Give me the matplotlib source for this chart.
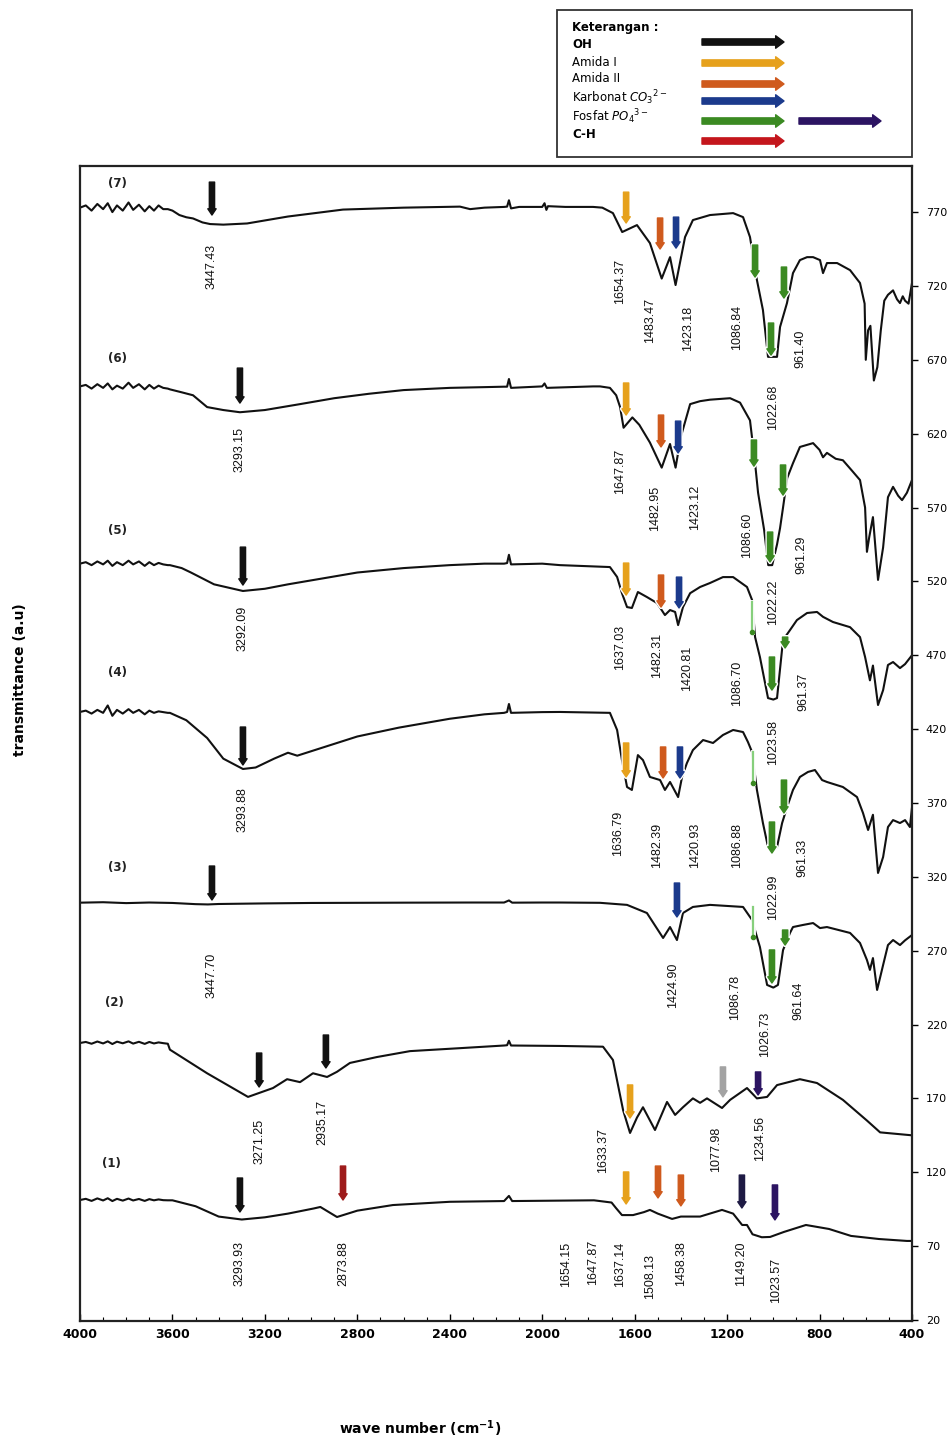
import matplotlib
matplotlib.use('Agg')
import matplotlib.pyplot as plt
import matplotlib.patheffects as pe
from matplotlib.patches import FancyArrowPatch, Rectangle
from matplotlib.ticker import MultipleLocator

# ---------------- data ----------------
NOISE_WN = [4000, 3975, 3950, 3925, 3900, 3880, 3860, 3840, 3815, 3790, 3770, 3745, 3720, 3700, 3680, 3660, 3640, 3620]

wn7 = NOISE_WN + [3600, 3570, 3540, 3511, 3470, 3437, 3380, 3277, 3100, 2862, 2600, 2356, 2312, 2250, 2165, 2152, 2144, 2135,
                  2100, 2000, 1990, 1982, 1975, 1900, 1780, 1740, 1694, 1654, 1620, 1590, 1534, 1483, 1447, 1423, 1382, 1348,
                  1274, 1174, 1131, 1101, 1071, 1045, 1023, 984, 971, 941, 915, 885, 854, 828, 798, 785, 768, 724, 668, 625,
                  605, 600, 590, 580, 565, 550, 535, 520, 504, 482, 465, 452, 440, 430, 415, 400]
t7 = [773, 774.5, 771, 775.5, 772, 776, 770, 774.5, 771, 776.5, 771.5, 775, 770.5, 774, 771, 774.5, 772, 772] + \
     [771, 768, 766.5, 765.7, 763, 761.9, 761.5, 762.3, 767, 771.7, 773, 773.7, 772, 773, 773.5, 773.7, 778, 772.5,
      773.5, 773.5, 776, 771.5, 774, 773.5, 773.5, 773, 769.3, 756.5, 759, 761.2, 749, 725, 739.5, 720.6, 753.1, 764.6,
      768, 769.3, 766.6, 753.1, 724, 703.7, 672, 672, 692.2, 708.4, 728.7, 737.5, 739.5, 739.5, 737.5, 728.7, 735.5, 735.5, 730.7, 722,
      708, 670, 690, 693, 656, 665, 690, 710, 714, 717, 711, 708.4, 713, 710, 708, 722]

wn6 = NOISE_WN + [3611, 3560, 3511, 3450, 3380, 3308, 3200, 3048, 2900, 2750, 2600, 2400, 2250, 2165, 2152, 2144, 2135,
                  2000, 1990, 1980, 1780, 1750, 1707, 1680, 1663, 1648, 1610, 1580, 1534, 1483, 1447, 1423, 1400, 1360,
                  1317, 1274, 1187, 1144, 1101, 1079, 1066, 1040, 1022, 1005, 984, 971, 958, 940, 915, 885, 828, 800, 785,
                  768, 730, 699, 660, 625, 603, 595, 585, 569, 547, 525, 504, 482, 460, 443, 422, 400]
t6 = [652, 653, 650.5, 653.5, 651, 654, 650, 652.5, 650.5, 654.5, 651, 653.5, 650, 653, 650.5, 652.5, 651, 650.5] + \
     [650, 648, 646, 638, 636, 634.5, 636, 640, 644, 647, 649.5, 651, 651.5, 651.8, 651.8, 657, 651,
      652, 654, 651, 652, 652, 651, 646, 638, 624, 631, 626, 614, 597, 613, 597, 618, 640,
      642, 643, 644, 641, 629, 600, 580, 555, 531, 531, 545, 556, 570, 590, 600, 611, 613.6, 609, 604,
      607, 603, 602, 595, 588.6, 570, 540, 550, 563.5, 521, 543, 577, 584, 578, 575, 580, 588.6]

wn5 = NOISE_WN + [3611, 3560, 3520, 3420, 3295, 3200, 3100, 2950, 2800, 2600, 2400, 2250, 2165, 2152, 2144, 2135, 2000,
                  1923, 1707, 1676, 1655, 1633, 1612, 1586, 1547, 1503, 1469, 1447, 1425, 1412, 1391, 1360, 1317, 1274,
                  1218, 1174, 1114, 1092, 1079, 1058, 1023, 1000, 984, 958, 928, 898, 854, 811, 785, 742, 668, 625, 603,
                  582, 569, 547, 525, 504, 482, 452, 430, 400]
t5 = [532, 533, 531, 533.5, 531.5, 534, 530.5, 533, 531, 534, 531.5, 533.5, 530.5, 533, 531, 532.5, 531.5, 531] + \
     [531, 529, 526, 518, 513.5, 515, 518, 522, 526, 529, 531, 532, 532, 532.4, 538, 531.5, 532,
      531, 529.7, 523, 512, 502.6, 502, 512.8, 509.4, 505.3, 497.2, 500.6, 499.3, 490.4, 502.6, 512, 516.2, 518.9,
      522.9, 522.9, 516.2, 507.4, 482.3, 468.8, 441, 440, 441, 480.3, 487, 493.8, 498.6, 499.3, 496, 492.5, 489, 482.3, 468.8,
      453, 463, 436.3, 446.4, 463.4, 465.4, 461.3, 464, 470]

wn4 = NOISE_WN + [3611, 3540, 3450, 3380, 3295, 3240, 3160, 3100, 3060, 3000, 2900, 2800, 2620, 2400, 2250, 2165, 2152,
                  2144, 2135, 2000, 1923, 1707, 1676, 1655, 1633, 1612, 1586, 1564, 1534, 1490, 1469, 1447, 1412, 1395,
                  1374, 1348, 1304, 1261, 1218, 1174, 1131, 1110, 1092, 1071, 1045, 1023, 1000, 984, 962, 941, 915, 885,
                  850, 820, 789, 768, 699, 638, 612, 590, 569, 547, 525, 504, 482, 452, 430, 409, 400]
t4 = [431.6, 432.5, 430.5, 433, 431, 436, 429, 433, 430.5, 433.5, 431, 433, 430, 432.5, 431, 432, 431.5, 431] + \
     [431, 426, 414, 400, 393, 394, 400, 404, 402, 405, 410, 415, 421, 427, 430, 431, 431.6,
      437, 431, 431.5, 431.6, 431, 419.4, 399, 380.8, 378.8, 402.4, 399, 387.6, 385.5, 378.8, 384.2, 374, 387.6,
      397, 405.8, 412.6, 410.6, 416, 419.4, 418, 411.3, 404.5, 378.8, 356.4, 340.2, 338, 340.2, 356.4, 367, 378.8, 387.6,
      391, 392.3, 385.5, 384.2, 380.8, 374, 363.2, 351.7, 362, 322.6, 333.4, 353.7, 358.4, 356.4, 358.4, 353.7, 367]

wn3 = [4000, 3900, 3800, 3700, 3600, 3500, 3447, 3400, 3200, 3000, 2600, 2300, 2165, 2144, 2130, 2000, 1923, 1750, 1633,
       1547, 1477, 1447, 1417, 1391, 1348, 1274, 1131, 1092, 1071, 1058, 1027, 1000, 980, 958, 928, 915, 872, 828, 798,
       768, 668, 625, 595, 582, 569, 551, 525, 504, 482, 452, 430, 400]
t3 = [302.5, 302.8, 302.2, 302.6, 302.3, 301.5, 301.3, 301.6, 302, 302.3, 302.5, 302.6, 302.6, 304, 302.5, 302.6, 302.6,
      302.4, 301, 295.5, 278.6, 286, 277.2, 295.5, 299.6, 301, 299.6, 290.8, 279.3, 272.5, 246.8, 245, 246.8, 270.4, 282,
      286, 287.4, 288.7, 285.3, 286, 282, 275.2, 263.7, 257, 265, 243.4, 260.3, 273.8, 277.2, 273.8, 277, 280.6]

wn2 = NOISE_WN + [3611, 3450, 3273, 3165, 3104, 3048, 2992, 2931, 2888, 2832, 2715, 2572, 2356, 2165, 2152, 2144, 2135,
                  1923, 1737, 1694, 1650, 1620, 1590, 1564, 1512, 1460, 1425, 1391, 1348, 1317, 1287, 1222, 1187, 1144,
                  1114, 1071, 1027, 984, 885, 811, 699, 595, 538, 400]
t2 = [207.5, 208.2, 207, 208.5, 207.2, 208.6, 206.8, 208.4, 207.3, 208.6, 207.1, 208.3, 206.9, 208.2, 207.2, 207.9, 207.4, 207] + \
     [203, 187, 171, 177, 183, 181, 187, 184.5, 188, 194, 198, 202, 204, 205.8, 206, 209, 205.8,
      205.5, 205, 196, 162, 146.6, 157, 164, 148.6, 167.6, 158.8, 164, 170, 167, 170, 163.5, 169, 173.7,
      177, 170, 171, 179, 183, 180.4, 169, 155, 147, 145]

wn1 = NOISE_WN + [3600, 3500, 3400, 3300, 3200, 3100, 2988, 2960, 2888, 2800, 2646, 2400, 2165, 2144, 2130, 1776, 1700,
                  1681, 1655, 1607, 1560, 1534, 1500, 1438, 1400, 1317, 1222, 1174, 1135, 1114, 1090, 1050, 1014, 954,
                  859, 759, 664, 543, 422, 400]
t1 = [101.2, 102, 100.6, 102.3, 100.9, 102.4, 100.5, 102, 100.8, 102.2, 100.9, 101.9, 100.6, 101.8, 101, 101.6, 101.1, 101] + \
     [101, 97, 90, 88, 89.5, 92, 95.5, 96.5, 89.7, 94, 97.8, 100, 100.5, 104, 100.5, 101, 99.5,
      95.8, 91, 91, 93, 94.5, 92, 88.4, 90, 90, 94.5, 92, 84.3, 84.3, 78, 76, 76.2, 79.6,
      84.3, 81.6, 76.9, 74.8, 73.5, 73.5]

spectra = [(wn1, t1), (wn2, t2), (wn3, t3), (wn4, t4), (wn5, t5), (wn6, t6), (wn7, t7)]

series_names = ['(7)', '(6)', '(5)', '(4)', '(3)', '(2)', '(1)']
series_name_wn = [3836, 3836, 3836, 3836, 3836, 3849, 3866]
series_name_t = [789.6, 671.2, 554.7, 458.6, 326.0, 234.6, 125.6]

# Colours of the band markers
C_OH = '#111111'
C_AM1 = '#e6a11c'
C_AM2 = '#cf5a1d'
C_CO3 = '#1b3a8c'
C_PO4 = '#3b8a22'
C_CH = '#c4161c'
C_PUR = '#2c1462'
C_GREY = '#a3a3a3'
C_LGRN = '#86cf7c'
C_DRED = '#9e1b1b'
C_NAVY = '#1e1a44'

# band marker arrows: wavenumber, tail value, tip value, colour, kind
arrow_wn = [3429, 1637, 1490, 1421, 1079, 954, 1010,
            3308, 1637, 1486, 1412, 1084, 958, 1014,
            3295, 1637, 1486, 1408, 1092, 1006, 949,
            3295, 1637, 1477, 1404, 1088, 954, 1006,
            3429, 1417, 1088, 949, 1006,
            3225, 2936, 1620, 1218, 1066,
            3308, 2862, 1637, 1499, 1400, 1136, 993]
arrow_top = [790.3, 783.5, 766, 766.6, 747.7, 732.8, 694.9,
             664.4, 654.3, 632.6, 628.5, 615.7, 598.8, 553.4,
             543.2, 532.4, 524.3, 522.9, 506, 468.8, 482.3,
             421.4, 410.6, 407.9, 407.9, 404.5, 385.5, 357.1,
             327.3, 315.8, 299.6, 284, 270.5,
             200.7, 212.9, 179.1, 191.3, 187.9,
             116.1, 124.2, 120.2, 124.2, 118.1, 118.1, 111.4]
arrow_tip = [768, 762.6, 745, 745.6, 726, 711.8, 673.2,
             640.7, 632.6, 611, 606.9, 598, 578.4, 533.1,
             517.5, 510.7, 502.6, 502, 485.7, 446.4, 474.9,
             395.7, 387.6, 386.9, 386.9, 383.5, 363.2, 336.1,
             304.3, 292.8, 279.3, 273.8, 248.1,
             177.7, 190.6, 156.7, 171, 172.3,
             93.1, 101.2, 98.5, 102.6, 97.2, 95.8, 87.7]
arrow_col = [C_OH, C_AM1, C_AM2, C_CO3, C_PO4, C_PO4, C_PO4,
             C_OH, C_AM1, C_AM2, C_CO3, C_PO4, C_PO4, C_PO4,
             C_OH, C_AM1, C_AM2, C_CO3, C_LGRN, C_PO4, C_PO4,
             C_OH, C_AM1, C_AM2, C_CO3, C_LGRN, C_PO4, C_PO4,
             C_OH, C_CO3, C_LGRN, C_PO4, C_PO4,
             C_OH, C_OH, C_AM1, C_GREY, C_PUR,
             C_OH, C_DRED, C_AM1, C_AM2, C_AM2, C_NAVY, C_PUR]
arrow_kind = ['thick'] * 18 + ['thin', 'thick', 'thick'] + ['thick'] * 4 + ['thin', 'thick', 'thick'] + \
             ['thick', 'thick', 'thin', 'thick', 'thick'] + ['thick'] * 5 + ['thick'] * 7

# peak labels: text, wavenumber position, value position
peak_text = ['3447.43', '1654.37', '1483.47', '1423.18', '1086.84', '1022.68', '961.40',
             '3293.15', '1647.87', '1482.95', '1423.12', '1086.60', '1022.22', '961.29',
             '3292.09', '1637.03', '1482.31', '1420.81', '1086.70', '1023.58', '961.37',
             '3293.88', '1636.79', '1482.39', '1420.93', '1086.88', '1022.99', '961.33',
             '3447.70', '1424.90', '1086.78', '1026.73', '961.64',
             '3271.25', '2935.17', '1633.37', '1077.98', '1234.56',
             '3293.93', '2873.88', '1654.15', '1647.87', '1637.14', '1508.13', '1458.38', '1149.20', '1023.57']
peak_wn = [3429, 1663, 1534, 1369, 1157, 1001, 885,
           3308, 1663, 1512, 1339, 1114, 1001, 880,
           3295, 1663, 1503, 1374, 1157, 1001, 868,
           3295, 1672, 1503, 1339, 1157, 1001, 876,
           3429, 1434, 1166, 1036, 893,
           3225, 2950, 1737, 1248, 1058,
           3308, 2862, 1897, 1780, 1663, 1534, 1400, 1140, 989]
peak_t = [733, 723.3, 696.9, 691.5, 692.2, 638, 677.3,
          609, 594.7, 569.6, 570.3, 551.4, 506, 537.8,
          488.4, 475.6, 470, 461.3, 451.2, 411.2, 445,
          365.2, 349.7, 341.5, 341.5, 341.5, 306.3, 332.7,
          253.5, 246.8, 238.6, 213.6, 235.9,
          141, 154, 135, 135.7, 143,
          57.9, 57.9, 57.9, 59, 57.9, 49.1, 57.9, 57.9, 47]

x_ticks = [4000, 3600, 3200, 2800, 2400, 2000, 1600, 1200, 800, 400]
y_ticks = [20, 70, 120, 170, 220, 270, 320, 370, 420, 470, 520, 570, 620, 670, 720, 770]

legend_labels = ['OH', 'Amida I', 'Amida II', r'Karbonat $CO_3{}^{2-}$', r'Fosfat $PO_4{}^{3-}$', 'C-H']
legend_colors = [C_OH, C_AM1, C_AM2, C_CO3, C_PO4, C_CH]

# ---------------- figure ----------------
W, H = 947, 1441
fig = plt.figure(figsize=(W / 100, H / 100), dpi=100)
fig.patch.set_facecolor('white')
ax = fig.add_axes([80 / W, (H - 1321) / H, 832 / W, (1321 - 166) / H])

for wn, t in spectra:
    ax.plot(wn, t, color='#111111', lw=1.5, solid_joinstyle='round', zorder=2)

for w, top, tip, c, kind in zip(arrow_wn, arrow_top, arrow_tip, arrow_col, arrow_kind):
    if kind == 'thick':
        p = FancyArrowPatch((w, top), (w, tip),
                            arrowstyle='simple,head_width=0.6,head_length=0.45,tail_width=0.38',
                            mutation_scale=10, color=c, shrinkA=0, shrinkB=0, zorder=5)
        p.set_path_effects([pe.Stroke(linewidth=3, foreground='white'), pe.Normal()])
        ax.add_patch(p)
    else:
        ax.plot([w, w], [top, tip], color=c, lw=1.6, zorder=5,
                path_effects=[pe.Stroke(linewidth=3.5, foreground='white'), pe.Normal()])
        ax.plot([w], [tip], marker='o', ms=3, color=C_PO4, zorder=6)

for s, w, t in zip(peak_text, peak_wn, peak_t):
    ax.text(w, t, s, rotation=90, ha='center', va='center', fontsize=9,
            family='Liberation Sans', color='#111111', zorder=4)

for s, w, t in zip(series_names, series_name_wn, series_name_t):
    ax.text(w, t, s, ha='center', va='center', fontsize=8.5, fontweight='bold', color='#222222')

ax.set_xlim(4000, 400)
ax.set_ylim(19.3, 801.2)
ax.set_xticks(x_ticks)
ax.xaxis.set_minor_locator(MultipleLocator(100))
ax.set_xticklabels([str(v) for v in x_ticks], fontsize=9, fontweight='bold')
ax.yaxis.tick_right()
ax.set_yticks(y_ticks)
ax.set_yticklabels([str(v) for v in y_ticks], fontsize=8)
ax.tick_params(axis='x', which='major', direction='in', length=5, width=1, pad=5)
ax.tick_params(axis='x', which='minor', direction='in', length=3, width=0.8)
ax.tick_params(axis='y', direction='out', length=4, width=1, pad=6)
for sp in ax.spines.values():
    sp.set_linewidth(1.6)
    sp.set_color('#222222')

fig.text(20 / W, 1 - 680 / H, 'transmittance (a.u)', rotation=90, ha='center', va='center',
         fontsize=10, fontweight='bold')
fig.text(420 / W, 1 - 1429 / H, r'wave number (cm$^{\mathbf{-1}}$)', ha='center', va='center',
         fontsize=10, fontweight='bold')

# ---------------- legend box ----------------
fig.patches.append(Rectangle((557 / W, 1 - 157 / H), 355 / W, 147 / H, transform=fig.transFigure,
                             fill=False, lw=1.3, ec='#333333'))
fig.text(572 / W, 1 - 28 / H, 'Keterangan :', ha='left', va='center', fontsize=8.5, fontweight='bold')
label_y = [45, 62, 79, 98, 117, 134]
arrow_y = [42, 63, 84, 101, 121, 141]
for lab, c, ly, ay in zip(legend_labels, legend_colors, label_y, arrow_y):
    bold = 'bold' if lab in ('OH', 'C-H') else 'normal'
    fig.text(572 / W, 1 - ly / H, lab, ha='left', va='center', fontsize=8.5, fontweight=bold)
    fig.patches.append(FancyArrowPatch((702, H - ay), (784, H - ay), transform=None,
                                       arrowstyle='simple,head_width=0.9,head_length=0.6,tail_width=0.45',
                                       mutation_scale=10, color=c, shrinkA=0, shrinkB=0))
fig.patches.append(FancyArrowPatch((799, H - 121), (881, H - 121), transform=None,
                                   arrowstyle='simple,head_width=0.9,head_length=0.6,tail_width=0.45',
                                   mutation_scale=10, color=C_PUR, shrinkA=0, shrinkB=0))

fig.savefig('out.png', dpi=100, facecolor='white')
